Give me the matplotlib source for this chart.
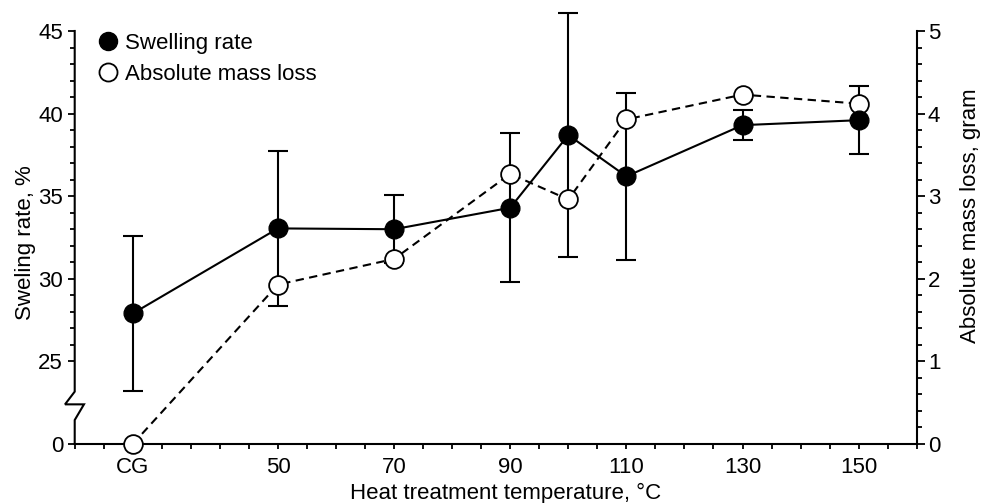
import numpy as np
import matplotlib
matplotlib.use("Agg")
import matplotlib.pyplot as plt
from matplotlib.lines import Line2D
from matplotlib.transforms import blended_transform_factory

# ---------------- data ----------------
temps = [25, 50, 70, 90, 100, 110, 130, 150]          # 25 -> "CG" (control group)
swelling = [27.9, 33.05, 33.0, 34.3, 38.7, 36.2, 39.3, 39.6]   # %
swelling_err = [4.67, 4.7, 2.05, 4.5, 7.4, 5.07, 0.9, 2.05]
mass_loss = [0.0, 1.93, 2.24, 3.27, 2.96, 3.93, 4.23, 4.12]    # gram

xtick_pos = [25, 50, 70, 90, 110, 130, 150]
xtick_labels = ["CG", "50", "70", "90", "110", "130", "150"]

left_ticks = [20, 25, 30, 35, 40, 45]
left_tick_labels = ["0", "25", "30", "35", "40", "45"]
right_ticks = [0, 1, 2, 3, 4, 5]

# ---------------- style ----------------
plt.rcParams["font.family"] = ["Liberation Sans", "DejaVu Sans"]
FS = 16
LW = 1.5

fig = plt.figure(figsize=(9.83, 5.03), dpi=100)
ax = fig.add_axes([0.076, 0.1173, 0.8566, 0.8211])
ax2 = ax.twinx()

# swelling error bars + line (left axis)
eb = ax.errorbar(temps, swelling, yerr=swelling_err, fmt="none", ecolor="black",
                 elinewidth=LW, capsize=7, capthick=LW, zorder=2)
for child in eb.get_children():
    child.set_clip_on(False)
ax.plot(temps, swelling, "-", color="black", lw=LW, zorder=3, clip_on=False)

# mass loss (right axis)
ax2.plot(temps, mass_loss, linestyle=(0, (4, 2.6)), color="black", lw=LW,
         marker="o", ms=13.5, mfc="white", mec="black", mew=1.3, zorder=3,
         clip_on=False)
# filled swelling markers drawn on top, using the left axis data scale
ax2.plot(temps, swelling, linestyle="none", marker="o", ms=13.5, mfc="black",
         mec="black", transform=ax.transData, zorder=4, clip_on=False)

# ---------------- axes ----------------
ax.set_xlim(15, 160)
ax.set_ylim(20, 45)
ax2.set_ylim(0, 5)
ax2.set_xlim(15, 160)

xt = np.arange(15, 161, 5)
lab_map = dict(zip(xtick_pos, xtick_labels))
ax.set_xticks(xt, [lab_map.get(int(v), "") for v in xt])
ax.tick_params(axis="x", direction="out", length=3.8, width=1.3, pad=5.5,
               labelsize=FS)

ax.set_yticks(left_ticks, left_tick_labels)
ax.set_yticks([v for v in range(26, 45) if v % 5 != 0], minor=True)
ax.tick_params(axis="y", which="major", direction="out", length=5, width=1.3,
               pad=3.4, labelsize=FS)
ax.tick_params(axis="y", which="minor", direction="out", length=3.3, width=1.3)

ax2.set_yticks(right_ticks)
ax2.set_yticks(np.arange(0, 5.01, 0.2), minor=True)
ax2.tick_params(axis="y", which="major", direction="out", length=5.5, width=1.3,
                pad=2.6, labelsize=FS)
ax2.tick_params(axis="y", which="minor", direction="out", length=3.3, width=1.3)

for s in ["top", "right", "left"]:
    ax.spines[s].set_visible(False)
ax.spines["bottom"].set_linewidth(LW)
for s in ["top", "left", "bottom"]:
    ax2.spines[s].set_visible(False)
ax2.spines["right"].set_linewidth(LW)

# broken left axis (drawn spine with zigzag break)
bt = blended_transform_factory(ax.transAxes, ax.transData)
bx = [0, 0, 0.011, -0.0115, 0, 0]
by = [20, 21.45, 22.4, 22.4, 23.17, 45]
ax.add_line(Line2D(bx, by, transform=bt, color="black", lw=LW, clip_on=False,
                   solid_joinstyle="miter"))

# labels
ax.set_xlabel("Heat treatment temperature, °C", fontsize=FS)
ax.xaxis.set_label_coords(0.5117, -0.12)
ax.xaxis.label.set_va("center")
ax.set_ylabel("Sweling rate, %", fontsize=FS, va="center")
ax.yaxis.set_label_coords(-0.059, 0.487)
ax2.set_ylabel("Absolute mass loss, gram", fontsize=FS, va="center", rotation=90)
ax2.yaxis.set_label_coords(1.064, 0.554)

# legend
handles = [
    Line2D([], [], linestyle="none", marker="o", ms=13, mfc="black", mec="black"),
    Line2D([], [], linestyle="none", marker="o", ms=13, mfc="white", mec="black", mew=1.3),
]
ax.legend(handles, ["Swelling rate", "Absolute mass loss"], loc="upper left",
          bbox_to_anchor=(0.0265, 0.995), frameon=False, fontsize=FS,
          borderpad=0, borderaxespad=0, handlelength=1.0, handletextpad=0.25,
          labelspacing=0.45)

fig.savefig("out.png", dpi=100)
